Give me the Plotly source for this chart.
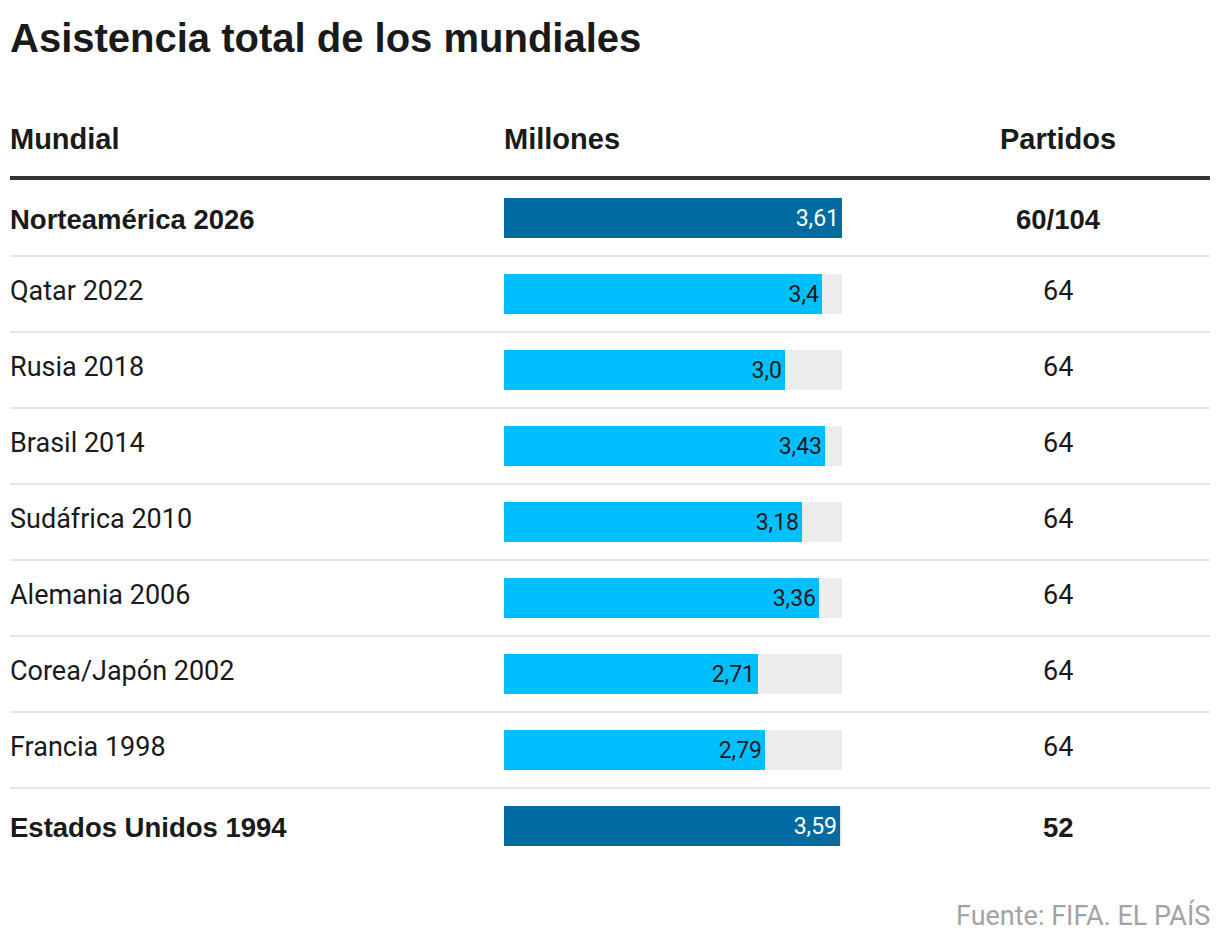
import plotly.graph_objects as go

mundiales = ["Norteamérica 2026", "Qatar 2022", "Rusia 2018", "Brasil 2014", "Sudáfrica 2010",
             "Alemania 2006", "Corea/Japón 2002", "Francia 1998", "Estados Unidos 1994"]
millones = [3.61, 3.4, 3.0, 3.43, 3.18, 3.36, 2.71, 2.79, 3.59]
etiquetas = ["3,61", "3,4", "3,0", "3,43", "3,18", "3,36", "2,71", "2,79", "3,59"]
partidos = ["60/104", "64", "64", "64", "64", "64", "64", "64", "52"]
destacado = [True, False, False, False, False, False, False, False, True]

W, H = 1220, 946
ROW0, STEP = 218, 76
COND = "Liberation Sans, Arial, sans-serif"
REG = "Roboto, sans-serif"
DARK = "#006ba1"
LIGHT = "#00bfff"
GREY = "#ececec"
TXT = "#1a1a1a"

n = len(mundiales)
idx = list(range(n))
vmax = max(millones)

fig = go.Figure()
fig.add_trace(go.Bar(
    y=idx, x=[vmax] * n, orientation="h", width=40 / STEP,
    marker=dict(color=GREY, line=dict(width=0)), hoverinfo="skip", showlegend=False,
))
fig.add_trace(go.Bar(
    y=idx, x=millones, orientation="h", width=40 / STEP,
    marker=dict(color=[DARK if d else LIGHT for d in destacado], line=dict(width=0)),
    text=etiquetas, textposition="inside", insidetextanchor="end",
    textfont=dict(family=REG, size=23, color=["white" if d else TXT for d in destacado]),
    constraintext="none", cliponaxis=False, showlegend=False,
))

def py(px):
    return 1 - px / H

ann = []
ann.append(dict(text="<b>Asistencia total de los mundiales</b>", x=8 / W, y=py(38), xref="paper", yref="paper",
                xanchor="left", yanchor="middle", showarrow=False, font=dict(family=COND, size=40, color=TXT)))
for lbl, xp, anchor in [("Mundial", 8, "left"), ("Millones", 502, "left"), ("Partidos", 1058, "center")]:
    ann.append(dict(text=f"<b>{lbl}</b>", x=xp / W, y=py(139), xref="paper", yref="paper",
                    xanchor=anchor, yanchor="middle", showarrow=False, font=dict(family=COND, size=29, color=TXT)))
for i in idx:
    if destacado[i]:
        f = dict(family=COND, size=27.5, color=TXT)
        t1, t2 = f"<b>{mundiales[i]}</b>", f"<b>{partidos[i]}</b>"
        ys = -1
    else:
        f = dict(family=REG, size=27, color=TXT)
        t1, t2 = mundiales[i], partidos[i]
        ys = 3
    ann.append(dict(text=t1, x=8 / W, y=i, xref="paper", yref="y", xanchor="left", yanchor="middle",
                    showarrow=False, font=f, yshift=ys))
    ann.append(dict(text=t2, x=1058 / W, y=i, xref="paper", yref="y", xanchor="center", yanchor="middle",
                    showarrow=False, font=f, yshift=ys))
ann.append(dict(text="Fuente: FIFA. EL PAÍS", x=1212 / W, y=py(915), xref="paper", yref="paper",
                xanchor="right", yanchor="middle", showarrow=False, font=dict(family=REG, size=27, color="#a3a3a3")))

shapes = [dict(type="line", xref="paper", yref="paper", x0=10 / W, x1=1210 / W, y0=py(178), y1=py(178),
               line=dict(color="#333333", width=4))]
for i in range(n - 1):
    shapes.append(dict(type="line", xref="paper", yref="y", x0=10 / W, x1=1210 / W, y0=i + 0.5, y1=i + 0.5,
                       line=dict(color="#e6e6e6", width=2)))

fig.update_layout(
    width=W, height=H, margin=dict(l=0, r=0, t=0, b=0),
    paper_bgcolor="white", plot_bgcolor="rgba(0,0,0,0)",
    barmode="overlay", bargap=0,
    xaxis=dict(domain=[504 / W, 842 / W], range=[0, vmax], visible=False, fixedrange=True),
    yaxis=dict(range=[(H - ROW0) / STEP, -ROW0 / STEP], visible=False, fixedrange=True),
    annotations=ann, shapes=shapes, uniformtext=dict(mode=False),
)
fig.write_html("out.html")
